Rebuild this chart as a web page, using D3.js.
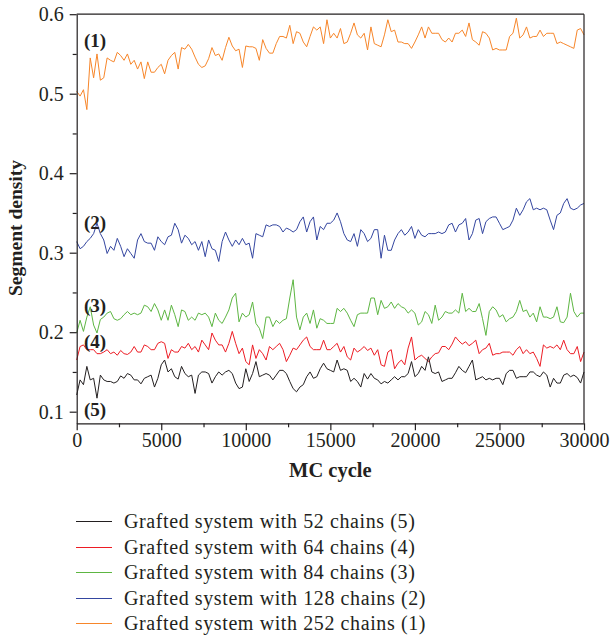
<!DOCTYPE html>
<html><head><meta charset="utf-8">
<script src="https://cdn.jsdelivr.net/npm/d3@7"></script>
<style>body{margin:0;background:#fff}svg{display:block}svg text{font-family:"Liberation Serif","Times New Roman",serif !important}</style>
</head><body>
<script>
const cycleStep = 200;
const series252 = [0.503,0.497,0.505,0.480,0.545,0.520,0.550,0.517,0.520,0.545,
0.542,0.540,0.552,0.548,0.542,0.550,0.537,0.542,0.531,0.540,0.519,0.540,0.527,0.527,0.533,0.537,0.525,0.542,0.548,0.552,
0.531,0.558,0.556,0.562,0.556,0.546,0.537,0.533,0.535,0.544,0.558,0.548,0.550,0.542,0.558,0.571,0.560,0.554,0.556,0.533,0.560,
0.559,0.559,0.557,0.542,0.568,0.557,0.551,0.551,0.563,0.572,0.572,0.570,0.586,0.563,0.578,0.576,0.565,0.559,0.572,0.584,
0.580,0.584,0.563,0.593,0.570,0.576,0.570,0.582,0.563,0.565,0.576,0.589,0.574,0.570,0.576,0.555,0.584,0.563,0.561,0.559,
0.574,0.593,0.578,0.580,0.565,0.565,0.563,0.563,0.557,0.565,
0.574,0.584,0.570,0.584,0.576,0.576,0.576,0.568,0.565,0.570,0.565,0.576,0.576,0.580,0.572,0.589,0.568,0.565,0.561,0.578,
0.576,0.570,0.555,0.557,0.555,0.555,0.555,0.572,0.576,0.595,0.570,0.574,0.584,0.570,0.572,0.572,0.580,0.572,0.576,0.576,
0.576,0.563,0.565,0.563,0.561,0.559,0.557,0.580,0.582,0.574];
const series128 = [0.314,0.305,0.308,0.314,0.318,0.324,0.337,0.324,0.316,0.299,0.308,0.303,0.318,0.308,0.295,0.305,0.299,0.293,0.316,0.324,
0.314,0.312,0.312,0.303,0.320,0.314,0.310,0.320,0.322,0.337,0.329,0.312,0.322,0.318,0.310,0.314,0.303,0.314,0.295,0.316,
0.305,0.303,0.289,0.314,0.326,0.316,0.308,0.316,0.310,0.318,0.310,
0.312,0.293,0.324,0.322,0.320,0.335,0.333,0.335,0.335,0.333,0.326,0.331,0.329,0.326,0.329,0.339,0.345,0.326,0.339,0.345,
0.316,0.333,0.329,0.337,0.337,0.341,0.350,0.339,0.324,0.316,0.314,0.324,0.308,0.329,0.324,0.314,0.318,0.329,0.329,0.293,
0.322,0.303,0.303,0.316,0.324,0.329,0.322,0.326,0.333,0.318,
0.329,0.322,0.320,0.324,0.324,0.324,0.326,0.324,0.326,0.335,0.337,0.326,0.335,0.337,0.343,0.316,0.324,0.341,0.343,0.324,
0.339,0.343,0.345,0.345,0.337,0.329,0.331,0.333,0.341,0.356,0.347,0.354,0.364,0.368,0.354,0.356,0.354,0.356,0.354,0.341,
0.329,0.347,0.350,0.362,0.368,0.356,0.354,0.356,0.360,0.362];
const series84 = [0.199,0.215,0.201,0.219,0.232,0.209,0.199,0.216,0.219,0.224,0.226,0.217,0.215,0.217,0.222,0.226,0.222,0.224,0.222,0.224,
0.234,0.232,0.226,0.236,0.228,0.215,0.228,0.215,0.234,0.222,0.207,0.228,0.226,0.215,0.219,0.215,0.224,0.222,0.224,0.219,
0.207,0.224,0.215,0.211,0.219,0.228,0.243,0.249,0.213,0.224,0.219,
0.222,0.238,0.211,0.205,0.192,0.219,0.219,0.207,0.215,0.211,0.215,0.217,0.243,0.266,0.219,0.203,0.219,0.224,0.211,0.228,
0.205,0.217,0.215,0.211,0.211,0.211,0.230,0.226,0.230,0.224,0.215,0.207,0.222,0.224,0.224,0.224,0.243,0.243,0.222,0.240,
0.230,0.232,0.238,0.230,0.236,0.232,0.230,0.224,0.228,0.224,
0.209,0.213,0.226,0.222,0.211,0.234,0.215,0.219,0.226,0.224,0.224,0.228,0.224,0.249,0.226,0.230,0.226,0.226,0.236,0.217,
0.196,0.226,0.232,0.228,0.219,0.222,0.213,0.217,0.219,0.226,0.240,0.226,0.228,0.219,0.224,0.213,0.232,0.219,0.219,0.217,
0.219,0.232,0.213,0.212,0.219,0.249,0.226,0.219,0.224,0.224];
const series64 = [0.165,0.182,0.184,0.178,0.178,0.178,0.173,0.173,0.175,0.178,0.173,0.175,0.171,0.177,0.173,0.172,0.175,0.182,0.175,0.175,
0.184,0.182,0.178,0.178,0.186,0.188,0.186,0.167,0.178,0.175,0.175,0.182,0.180,0.186,0.178,0.182,0.175,0.190,0.184,0.178,
0.199,0.190,0.184,0.184,0.175,0.186,0.201,0.186,0.173,0.180,0.163,
0.159,0.184,0.167,0.178,0.173,0.165,0.182,0.178,0.182,0.186,0.178,0.163,0.171,0.180,0.178,0.184,0.190,0.194,0.182,0.178,
0.178,0.178,0.190,0.178,0.178,0.182,0.186,0.175,0.182,0.169,0.165,0.180,0.175,0.178,0.182,0.177,0.180,0.171,0.178,0.159,
0.157,0.175,0.178,0.154,0.161,0.165,0.159,0.180,0.194,0.165,
0.169,0.171,0.167,0.163,0.169,0.173,0.174,0.182,0.182,0.178,0.185,0.194,0.189,0.185,0.188,0.183,0.186,0.190,0.173,0.178,
0.180,0.186,0.171,0.173,0.173,0.175,0.175,0.175,0.171,0.178,0.182,0.173,0.178,0.173,0.175,0.167,0.157,0.184,0.180,0.182,
0.180,0.184,0.178,0.190,0.178,0.173,0.173,0.182,0.163,0.175];
const series52 = [0.121,0.140,0.134,0.157,0.140,0.142,0.117,0.146,0.140,0.138,0.138,0.136,0.138,0.145,0.142,0.148,0.146,0.140,0.140,0.135,
0.142,0.144,0.146,0.131,0.142,0.159,0.165,0.150,0.154,0.144,0.141,0.157,0.148,0.144,0.146,0.123,0.146,0.150,0.150,0.148,
0.136,0.144,0.150,0.146,0.150,0.152,0.148,0.136,0.129,0.131,0.154,
0.138,0.148,0.163,0.144,0.146,0.148,0.146,0.140,0.146,0.152,0.152,0.148,0.138,0.129,0.125,0.131,0.134,0.144,0.150,0.142,
0.144,0.154,0.161,0.154,0.152,0.150,0.165,0.152,0.154,0.152,0.138,0.142,0.138,0.131,0.148,0.141,0.148,0.142,0.140,0.135,
0.138,0.136,0.140,0.144,0.140,0.144,0.144,0.148,0.163,0.144,
0.148,0.157,0.152,0.169,0.150,0.148,0.150,0.138,0.140,0.142,0.142,0.149,0.157,0.152,0.149,0.157,0.165,0.140,0.142,0.144,
0.140,0.142,0.140,0.142,0.142,0.134,0.148,0.152,0.152,0.142,0.144,0.144,0.144,0.150,0.150,0.146,0.144,0.150,0.146,0.131,
0.142,0.136,0.136,0.146,0.148,0.144,0.146,0.143,0.136,0.150];

const seriesNames = ["Grafted system with 52 chains (5)","Grafted system with 64 chains (4)","Grafted system with 84 chains (3)","Grafted system with 128 chains (2)","Grafted system with 252 chains (1)"];
const seriesColors = ["#231f20","#ed1c24","#5db642","#3446a0","#f7862a"];
const seriesData = [series52, series64, series84, series128, series252];
const curveLabels = ["(5)","(4)","(3)","(2)","(1)"];
const curveLabelY = [0.1022, 0.1889, 0.2342, 0.3386, 0.5675];
const xTicks = [0,5000,10000,15000,20000,25000,30000];
const yTicks = [0.1,0.2,0.3,0.4,0.5,0.6];

const FONT = "'Liberation Serif','Times New Roman',serif";
const INK = "#231f20";
const W=612,H=639;
const L=76.7,R=584,T=14.2,B=423.3;
const svg=d3.select("body").append("svg").attr("width",W).attr("height",H)
  .attr("font-family",FONT);
const x=d3.scaleLinear().domain([0,30000]).range([L,R]);
const y=d3.scaleLinear().domain([0.0854,0.6]).range([B,T]);

const line=d3.line().x((d,i)=>x(i*cycleStep)).y(d=>y(d));
const g=svg.append("g");
[3,4,2,1,0].forEach(k=>{
  g.append("path").datum(seriesData[k]).attr("d",line).attr("fill","none")
   .attr("stroke",seriesColors[k]).attr("stroke-width",1).attr("stroke-linejoin","round");
});

svg.append("line").attr("x1",L).attr("x2",R).attr("y1",T).attr("y2",T).attr("stroke",INK).attr("stroke-width",1.2);
svg.append("line").attr("x1",R).attr("x2",R).attr("y1",T).attr("y2",B).attr("stroke",INK).attr("stroke-width",1.2);

const axes=[];
axes.push(svg.append("g").attr("transform",`translate(0,${B})`)
  .call(d3.axisBottom(x).tickValues(xTicks).tickFormat(d3.format("d")).tickSize(7).tickSizeOuter(0).tickPadding(3)));
axes.push(svg.append("g").attr("transform",`translate(0,${B})`)
  .call(d3.axisBottom(x).tickValues(d3.range(2500,30000,5000)).tickFormat("").tickSize(4).tickSizeOuter(0)));
axes[1].select(".domain").remove();
axes.push(svg.append("g").attr("transform",`translate(${L},0)`)
  .call(d3.axisLeft(y).tickValues(yTicks).tickFormat(d3.format(".1f")).tickSize(7).tickSizeOuter(0).tickPadding(6)));
axes.push(svg.append("g").attr("transform",`translate(${L},0)`)
  .call(d3.axisLeft(y).tickValues([0.15,0.25,0.35,0.45,0.55]).tickFormat("").tickSize(4).tickSizeOuter(0)));
axes[3].select(".domain").remove();
axes.forEach(a=>a.attr("font-family",FONT).attr("font-size",20));
svg.selectAll(".tick line,.domain").attr("stroke",INK).attr("stroke-width",1.2);
svg.selectAll(".tick text").attr("font-family",FONT).attr("font-size",20).attr("fill",INK);

svg.append("text").attr("x",(L+R)/2).attr("y",477).attr("text-anchor","middle")
  .attr("font-size",20.5).attr("font-weight","bold").attr("fill",INK).text("MC cycle");
svg.append("text").attr("transform",`translate(22,228) rotate(-90)`).attr("text-anchor","middle")
  .attr("font-size",19.5).attr("font-weight","bold").attr("fill",INK).text("Segment density");

curveLabels.forEach((t,i)=>{
  svg.append("text").attr("x",84).attr("y",y(curveLabelY[i])+6.5)
    .attr("font-size",19).attr("font-weight","bold").attr("fill",INK).text(t);
});

const lg=svg.append("g");
seriesNames.forEach((n,i)=>{
  const yy=Math.round(521+i*25.5)+0.5;
  lg.append("line").attr("x1",76).attr("x2",112).attr("y1",yy).attr("y2",yy).attr("stroke",seriesColors[i]).attr("stroke-width",1);
  lg.append("text").attr("x",124).attr("y",yy+6.5)
    .attr("font-size",20).attr("letter-spacing","0.6px").attr("fill",INK).text(n);
});
</script>
</body></html>
